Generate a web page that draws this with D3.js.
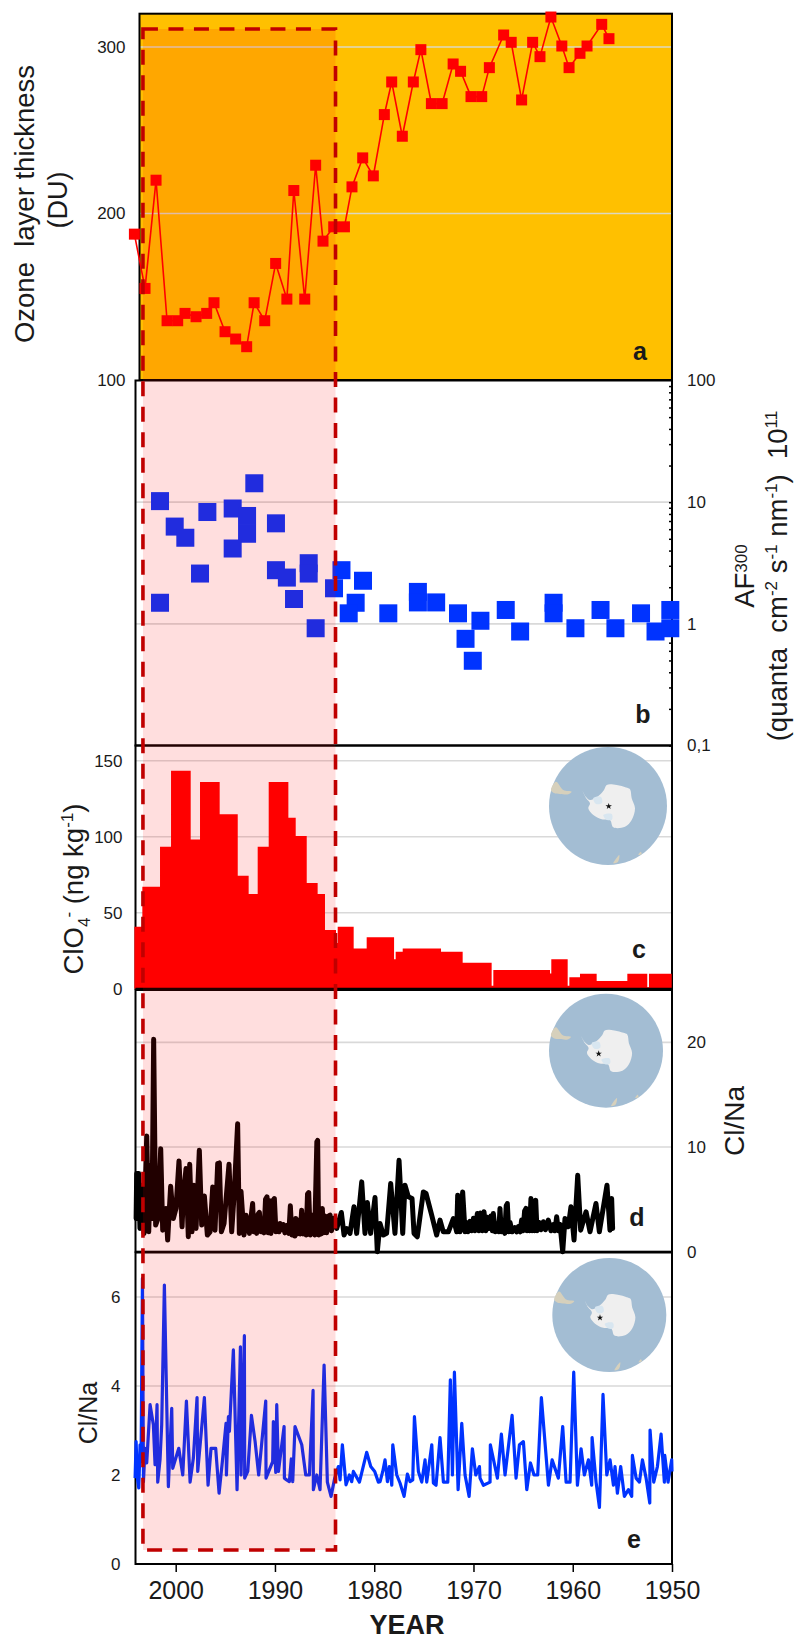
<!DOCTYPE html>
<html>
<head>
<meta charset="utf-8">
<script src="https://cdn.jsdelivr.net/npm/d3@7"></script>
<style>
  html, body { margin: 0; padding: 0; background: #fff; }
  svg { display: block; font-family: "Liberation Sans", Arial, sans-serif; }
  text { fill: #1a1a1a; }
</style>
</head>
<body>
<div id="chart"></div>
<script>
// a: ozone layer thickness
const aYears = [2004.16,2003.09,2001.98,2000.87,1999.8,1999.06,1997.95,1996.88,1996.14,1995.03,1993.96,1992.85,1992.1,1991.03,1989.93,1988.8,1988.1,1987.0,1985.9,1985.16,1984.08,1983.0,1982.24,1981.16,1980.09,1978.98,1978.24,1977.17,1976.06,1975.3,1974.24,1973.16,1972.05,1971.3,1970.25,1969.17,1968.4,1966.96,1966.2,1965.15,1964.04,1963.3,1962.2,1961.1,1960.37,1959.27,1958.56,1957.08,1956.35];
const aValues = [187.6,155,220,135.6,135.6,140,138,140,146.4,129,124.6,120,146.4,135.6,170,148.6,213.8,148.6,229,183.4,192,192,216,233.4,222.6,259.4,279,246.4,279,298.4,266,266,289.8,285.4,270.2,270.2,287.6,307.2,302.8,268.2,302.8,294.2,318,300.6,287.6,296.2,300.6,313.6,305];

// b: AF300
const bYears = [1992.08,2001.58,1996.81,1994.26,1992.81,1992.81,1994.26,2000.1,1999.03,1989.9,1997.55,1989.9,1988.8,1986.6,1986.6,1988.08,2001.58,1985.9,1984.05,1983.3,1981.13,1981.87,1982.57,1978.58,1975.6,1975.6,1973.76,1971.56,1969.3,1970.8,1970.07,1966.75,1965.3,1961.93,1961.93,1959.73,1957.2,1955.7,1953.12,1951.66,1950.17,1950.17];
const bValues = [14.3,10.2,8.3,8.87,7.7,5.5,4.16,6.3,5.1,6.7,2.59,2.76,2.4,3.15,2.59,1.6,1.49,0.92,1.96,2.76,2.26,1.49,1.22,1.22,1.83,1.5,1.5,1.22,1.06,0.753,0.497,1.3,0.865,1.49,1.22,0.92,1.3,0.92,1.22,0.865,1.3,0.92];

// c: perchlorate, one value per bin, the last edge closes the last bin
const cEdges = [2004.16,2003.36,2001.58,2000.47,1998.49,1997.55,1995.57,1993.75,1992.65,1991.74,1990.63,1988.65,1987.91,1986.8,1985.7,1984.96,1983.85,1983.68,1982.07,1980.76,1978.0,1977.84,1977.13,1973.27,1971.09,1968.17,1968.0,1966.32,1962.29,1962.16,1960.51,1960.34,1959.27,1957.59,1954.5,1952.49,1952.32,1950.03];
const cValues = [40.8,67,93.4,143.4,98.2,136,114.7,74.3,62.3,93.4,136,112.5,100.4,69.5,62.3,38.6,30,40.8,26.5,33.8,19.3,24.3,26.5,24.3,17,2,12.3,12.3,10,19.3,2,7.5,9.9,5,9.9,1,9.9];

// d: Cl/Na first core
const dYears = [
    2003.99,2003.93,2003.73,2003.6,2003.39,2003.19,2002.92,2002.72,2002.52,2002.39,2002.22,2002.02,2001.78,2001.51,2001.31,2000.98,2000.81,2000.51,2000.24,1999.97,1999.67,1999.36,1999.23,1998.96,1998.73,1998.59,1998.36,1998.16,1997.95,1997.62,1997.38,1997.11,1996.81,1996.54,1996.27,1996.04,1995.77,1995.6,1995.4,1995.13,1994.63,1994.36,1994.13,1993.76,1993.59,1993.42,1993.12,1992.92,
    1992.58,1992.42,1992.25,1992.13,1992.01,1991.85,1991.7,1991.57,1991.4,1991.24,1991.1,1990.95,1990.8,1990.68,1990.57,1990.4,1990.2,1990.06,1989.9,1989.76,1989.6,1989.49,1989.3,1989.16,1989.0,1988.82,1988.6,1988.45,1988.3,1988.15,1988.0,1987.91,1987.75,1987.64,1987.45,1987.31,1987.18,1987.07,1986.85,1986.72,1986.6,1986.45,1986.3,1986.0,1985.78,1985.7,1985.6,1985.46,1985.35,1985.23,1985.1,1984.96,1984.8,1984.6,1984.45,1984.3,1984.12,
    1983.78,1983.31,1983.04,1982.78,1982.44,1982.04,1981.77,1981.26,1980.93,1980.69,1980.36,1979.92,1979.69,1979.42,1979.08,1978.75,1978.34,1977.91,1977.5,1977.13,1976.9,1976.56,1976.19,1975.99,1975.66,1975.05,1974.78,1974.21,1973.71,1973.37,1973.04,1972.53,1972.03,1971.69,1971.59,1971.36,1971.09,
    1970.85,1970.7,1970.55,1970.35,1970.18,1970.0,1969.85,1969.61,1969.45,1969.3,1969.1,1968.94,1968.75,1968.6,1968.44,1968.25,1968.1,1968.0,1967.8,1967.6,1967.45,1967.33,1967.2,1967.06,1966.85,1966.7,1966.59,1966.45,1966.32,1966.1,1965.82,1965.65,1965.48,1965.3,1965.15,1965.0,1964.85,1964.71,1964.6,1964.47,1964.35,1964.21,1964.1,1963.97,1963.85,1963.73,1963.6,1963.4,1963.2,1962.96,1962.75,1962.46,1962.2,1961.96,1961.8,1961.62,1961.45,1961.28,
    1961.01,1960.78,1960.45,1960.18,1959.87,1959.5,1959.2,1958.66,1958.26,1957.66,1957.32,1956.99,1956.55,1956.25,1956.08,1955.98];
const dValues = [
    3.17,7.46,7.46,2.22,6.35,1.75,11.05,1.9,8.25,3.17,20.3,2.54,3.17,9.84,2.06,4.13,1.11,6.25,3.17,4.13,8.67,2.38,5.24,7.94,1.43,8.35,1.9,6.35,2.22,9.68,2.54,5.33,1.59,1.9,6.19,2.06,8.41,8.48,1.9,2.7,8.35,1.9,5.24,12.22,1.75,5.78,1.59,3.49,
    1.75,3.2,4.6,1.9,3.4,1.75,3.6,3.75,1.9,2.6,1.8,5.0,5.24,1.8,4.9,1.75,4.9,5.08,1.9,2.6,1.9,2.7,2.1,2.6,1.8,2.5,1.75,4.38,1.6,3.0,1.5,3.17,1.7,3.0,1.7,3.97,1.7,3.5,1.6,5.5,5.65,1.6,3.5,1.6,10.5,10.63,1.6,3.2,1.7,4.13,1.8,3.4,1.8,3.4,3.49,2.0,3.2,
    2.22,3.75,1.59,2.22,1.75,4.29,1.75,6.67,1.75,4.7,1.75,5.17,0,2.7,1.59,1.75,6.51,1.75,8.73,1.75,6.35,5.24,5.08,1.75,1.43,5.71,5.56,3.49,1.59,3.02,1.9,1.9,3.17,1.9,5.4,1.9,5.71,
    1.9,2.8,1.9,2.9,2.0,3.2,2.0,3.65,2.0,3.7,2.0,3.81,2.0,3.3,2.22,3.4,2.0,3.65,1.9,2.7,1.9,4.13,1.9,2.8,1.75,4.4,4.6,1.9,2.8,1.9,2.3,1.9,2.4,1.9,3.02,2.0,3.9,4.13,2.0,2.8,2.0,5.08,2.0,4.7,2.0,4.92,2.0,2.8,2.1,2.86,2.1,3.02,2.0,2.6,2.0,3.33,2.0,2.6,
    0,3.17,2.38,4.29,1.11,7.3,2.06,3.81,1.9,4.6,1.9,3.81,6.35,2.06,5.08,2.22];

// e: Cl/Na second core
const eYears = [2004.09,2003.99,2003.86,2003.72,2003.59,2003.49,2003.35,2003.25,2003.09,2002.92,2002.58,2002.25,2002.08,2001.88,2001.81,2001.58,2001.41,2001.14,2000.74,2000.4,2000.3,1999.69,1999.29,1998.92,1998.55,1998.22,1997.85,1997.78,1997.11,1996.74,1996.44,1995.97,1995.63,1995.3,1994.93,1994.89,1994.69,1994.59,1994.19,1993.82,1993.48,1993.42,1993.08,1993.05,1992.74,1992.37,1992.0,1991.64,1990.93,1990.9,1990.23,1990.16,1989.92,1989.82,1989.65,1989.08,1989.05,1988.82,1988.55,1988.35,1988.21,1987.98,1987.3,1986.9,1986.53,1986.16,1986.13,1985.79,1985.46,1985.05,1984.72,1984.35,1983.98,1983.61,1983.44,1983.21,1982.84,1982.5,1982.27,1982.1,1981.49,1980.76,1980.35,1979.95,1979.58,1979.41,1979.14,1978.91,1978.67,1978.47,1978.34,1978.23,1978.13,1977.73,1977.4,1976.99,1976.66,1976.39,1976.12,1975.95,1975.55,1975.21,1974.88,1974.71,1974.2,1974.04,1973.77,1973.37,1973.03,1972.59,1972.33,1972.12,1971.92,1971.55,1971.18,1970.85,1970.44,1970.11,1969.77,1969.4,1969.34,1969.0,1968.33,1968.3,1967.59,1967.19,1966.82,1966.11,1965.71,1965.37,1964.97,1964.63,1964.26,1963.9,1963.53,1963.16,1962.45,1962.08,1961.45,1961.01,1960.67,1960.27,1959.9,1959.53,1959.16,1958.83,1958.42,1958.09,1958.05,1957.65,1957.31,1956.95,1956.57,1956.24,1955.9,1955.74,1955.5,1955.17,1954.8,1954.39,1954.06,1953.99,1953.62,1953.28,1952.98,1952.61,1952.24,1952.21,1951.84,1951.47,1951.1,1950.77,1950.73,1950.4,1950.03,1950.0];
const eValues = [1.93,2.75,1.93,1.71,2.68,2.3,6.42,1.85,2.6,2.27,3.58,3.13,2.23,3.58,1.84,2.34,3.13,6.27,1.74,3.5,2.15,2.6,2.0,3.66,1.84,2.38,3.74,2.08,3.74,1.77,2.6,2.6,1.59,2.3,3.16,2.0,3.31,2.98,4.81,1.67,4.88,2.0,5.13,1.93,2.08,3.34,2.75,2.0,3.66,1.93,2.3,3.2,2.06,3.58,2.08,3.09,1.93,1.89,1.85,2.36,1.85,3.09,2.68,2.0,2.0,3.9,1.67,2.0,1.67,4.47,1.84,1.52,1.93,2.19,1.89,2.68,1.78,2.0,1.85,2.08,1.84,2.51,2.19,2.08,1.84,1.85,2.08,2.34,1.85,2.19,2.0,1.77,2.68,2.0,1.82,1.52,2.02,1.85,1.89,3.31,2.08,1.84,2.34,1.84,2.68,1.82,1.77,2.84,1.84,1.84,4.14,2.0,4.31,1.67,3.16,2.0,1.52,2.59,2.0,2.19,1.93,1.77,1.84,2.68,1.93,2.92,2.0,3.34,1.93,2.68,2.75,1.67,2.27,2.0,2.0,3.74,1.77,2.34,1.93,3.09,1.84,1.84,4.31,1.77,2.59,2.0,2.34,1.77,2.84,1.84,1.27,3.81,2.0,2.34,1.77,2.19,1.59,2.19,1.52,1.67,1.52,2.44,1.93,1.84,2.34,1.93,1.37,3.01,1.84,2.19,2.92,1.84,2.44,1.84,2.34,2.08];

const xTicks = [2000, 1990, 1980, 1970, 1960, 1950];
const aTicks = [300, 200, 100];
const bTicks = [100, 10, 1, 0.1];
const cTicks = [150, 100, 50, 0];
const dTicks = [20, 10, 0];
const eTicks = [6, 4, 2, 0];
const shadedYears = [2003.3, 1983.9];

const svg = d3.select("#chart").append("svg").attr("width", 795).attr("height", 1640);

const left = 135.5, right = 672;
const x = d3.scaleLinear().domain([2000, 1950]).range([175.7, 672]);

const yA = d3.scaleLinear().domain([100, 320]).range([380, 13.7]);
const yB = d3.scaleLog().domain([0.1, 100]).range([745.5, 380.5]);
const yC = d3.scaleLinear().domain([0, 160]).range([988.7, 745.5]);
const yD = d3.scaleLinear().domain([0, 25]).range([1251.7, 990]);
const yE = d3.scaleLinear().domain([0, 7]).range([1564, 1252.5]);

function grid(scale, values, x0, colour) {
    svg.append("g").selectAll("line").data(values).enter().append("line")
        .attr("x1", x0).attr("x2", right)
        .attr("y1", d => scale(d)).attr("y2", d => scale(d))
        .attr("stroke", colour).attr("stroke-width", 1.6);
}

function frame(x0, scale) {
    const r = scale.range();
    svg.append("rect")
        .attr("x", x0).attr("y", r[1])
        .attr("width", right - x0).attr("height", r[0] - r[1])
        .attr("fill", "none").attr("stroke", "#000").attr("stroke-width", 2);
}

function axisText(g, size) {
    g.selectAll("text").attr("font-size", size).attr("fill", "#1a1a1a");
    g.selectAll(".domain").remove();
    g.selectAll(".tick line").attr("stroke", "#000").attr("stroke-width", 1.5);
}

function leftAxis(scale, ticks, pad) {
    svg.append("g").attr("transform", `translate(${left},0)`)
        .call(d3.axisLeft(scale).tickValues(ticks).tickSize(0).tickPadding(pad).tickFormat(d => d))
        .call(axisText, 17);
}

function rightAxis(scale, ticks, fmt) {
    svg.append("g").attr("transform", `translate(${right},0)`)
        .call(d3.axisRight(scale).tickValues(ticks).tickSize(0).tickPadding(15).tickFormat(fmt))
        .call(axisText, 17);
}

// Panel a
svg.append("rect")
    .attr("x", 139.5).attr("y", yA(320))
    .attr("width", right - 139.5).attr("height", yA(100) - yA(320))
    .attr("fill", "#ffc000");
grid(yA, [300, 200], 139.5, "#dcd8c0");
frame(139.5, yA);
leftAxis(yA, aTicks, 10);
svg.append("path")
    .datum(aYears.map((d, i) => [d, aValues[i]]))
    .attr("fill", "none").attr("stroke", "#ff0000").attr("stroke-width", 1.6)
    .attr("d", d3.line().x(d => x(d[0])).y(d => yA(d[1])));
svg.append("g").selectAll("rect").data(aYears).enter().append("rect")
    .attr("x", d => x(d) - 5.5)
    .attr("y", (d, i) => yA(aValues[i]) - 5.5)
    .attr("width", 11).attr("height", 11)
    .attr("fill", "#ff0000");

// Panel b
grid(yB, [10, 1], left, "#d9d9d9");
frame(left, yB);
rightAxis(yB, bTicks, d => String(d).replace(".", ","));
svg.append("g").attr("transform", `translate(${right},0)`)
    .call(d3.axisRight(yB)
        .tickValues(d3.range(-1, 2).flatMap(e => d3.range(1, 10).map(m => m * Math.pow(10, e))))
        .tickSize(-3).tickFormat(""))
    .call(axisText, 17);
svg.append("g").selectAll("rect").data(bYears).enter().append("rect")
    .attr("x", d => x(d) - 9)
    .attr("y", (d, i) => yB(bValues[i]) - 9)
    .attr("width", 18).attr("height", 18)
    .attr("fill", "#0033ff");

// Panel c
grid(yC, [150, 100, 50], left, "#d9d9d9");
frame(left, yC);
svg.append("path")
    .datum(cEdges.map((d, i) => [d, i < cValues.length ? cValues[i] : cValues[cValues.length - 1]]))
    .attr("fill", "#ff0000")
    .attr("d", d3.area().curve(d3.curveStepAfter).x(d => x(d[0])).y0(yC(0)).y1(d => yC(d[1])));
svg.append("line")
    .attr("x1", left).attr("x2", right)
    .attr("y1", yC(0)).attr("y2", yC(0))
    .attr("stroke", "#000").attr("stroke-width", 2);
leftAxis(yC, cTicks, 13);

// Panel d
grid(yD, [20, 10], left, "#d9d9d9");
frame(left, yD);
rightAxis(yD, dTicks, d => d);
svg.append("path")
    .datum(dYears.map((d, i) => [d, dValues[i]]))
    .attr("fill", "none").attr("stroke", "#000").attr("stroke-width", 5)
    .attr("stroke-linejoin", "round").attr("stroke-linecap", "round")
    .attr("d", d3.line().x(d => x(d[0])).y(d => yD(d[1])));

// Panel e
grid(yE, [6, 4, 2], left, "#d9d9d9");
frame(left, yE);
leftAxis(yE, eTicks, 15);
svg.append("path")
    .datum(eYears.map((d, i) => [d, eValues[i]]))
    .attr("fill", "none").attr("stroke", "#0033ff").attr("stroke-width", 3.2)
    .attr("stroke-linejoin", "round")
    .attr("d", d3.line().x(d => x(d[0])).y(d => yE(d[1])));

// x axis
svg.append("g").attr("transform", `translate(0,${yE(0)})`)
    .call(d3.axisBottom(x).tickValues(xTicks).tickFormat(d => d).tickSize(8).tickPadding(9))
    .call(axisText, 25);

// shaded interval on top of all panels
svg.append("rect")
    .attr("x", x(shadedYears[0])).attr("y", 29)
    .attr("width", x(shadedYears[1]) - x(shadedYears[0])).attr("height", 1521)
    .attr("fill", "#ff0000").attr("fill-opacity", 0.13);
svg.append("rect")
    .attr("x", x(shadedYears[0])).attr("y", 29)
    .attr("width", x(shadedYears[1]) - x(shadedYears[0])).attr("height", 1521)
    .attr("fill", "none").attr("stroke", "#c00000").attr("stroke-width", 3.6)
    .attr("stroke-dasharray", "15,10.5");

// location maps, outlines relative to the circle centre
const antarctica = [[-25.7,-15.3],[-22,-9],[-18,-6],[-11.3,-8.7],[-4,-16],[-1.3,-21],[8.7,-21],[18,-18.5],[22,-16.7],[23.7,-7.7],[27,2.3],[23.7,14],[17,20.7],[5.3,21.3],[2,14],[-6.3,13.3],[-14.7,9],[-19.7,2.3],[-18,-2.7],[-22,-8]];
const shelfA = [[-14.7,-8],[-7,-9],[-6,-3],[-12,-2]];
const shelfB = [[-4.7,9],[3.7,8],[4,13.5],[-1,14]];
const landA = [[-57,-16],[-52,-24.3],[-44.7,-16],[-36.3,-14.3],[-39.7,-11.7],[-48,-12],[-54,-13]];
const landB = [[5.3,57.3],[11.3,49],[10,55.7]];
const landC = [[30.3,49],[32.7,45.7],[33.7,48]];
const outline = d3.line().curve(d3.curveCatmullRomClosed);

function map(cx, cy, r, sx, sy) {
    const k = r / 59;
    const g = svg.append("g").attr("transform", `translate(${cx},${cy})`);
    g.append("circle").attr("r", r).attr("fill", "#a3bdd3");
    [landA, landB, landC].forEach(p => g.append("path").attr("d", outline(p))
        .attr("transform", `scale(${k})`).attr("fill", "#d6d0bc"));
    g.append("path").attr("d", outline(antarctica))
        .attr("transform", `scale(${k})`).attr("fill", "#efefef");
    [shelfA, shelfB].forEach(p => g.append("path").attr("d", outline(p))
        .attr("transform", `scale(${k})`).attr("fill", "#d8e6f0"));
    g.append("path").attr("d", d3.symbol(d3.symbolStar, 13))
        .attr("transform", `translate(${sx},${sy})`).attr("fill", "#111");
}
map(608, 806, 59, 0.7, 0.3);
map(606, 1050.7, 57, -7.3, 3);
map(609.3, 1315, 57, -9.3, 2.7);

// panel letters
const letters = [["a", 640, 360], ["b", 643, 722.7], ["c", 639, 958], ["d", 637, 1225.7], ["e", 634, 1548]];
svg.append("g").selectAll("text").data(letters).enter().append("text")
    .attr("x", d => d[1]).attr("y", d => d[2])
    .attr("text-anchor", "middle").attr("font-size", 25).attr("font-weight", "bold")
    .attr("fill", "#000")
    .text(d => d[0]);

// axis titles
function title(tx, ty, size, parts) {
    const t = svg.append("text")
        .attr("transform", `translate(${tx},${ty}) rotate(-90)`)
        .attr("text-anchor", "middle").attr("font-size", size)
        .attr("xml:space", "preserve");
    parts.forEach(p => {
        const s = t.append("tspan").text(p[0]);
        if (p[1]) s.attr("font-size", size * 0.62).attr("dy", p[1]);
        if (p[2]) s.attr("dy", p[2]);
    });
}
title(34, 204, 27.5, [["Ozone  layer thickness"]]);
title(67, 200, 27, [["(DU)"]]);
title(83, 889, 27.5, [["ClO"], ["4", 7], ["-", -16], [" (ng kg", null, 9], ["-1", -10], [")", null, 10]]);
title(754, 576, 27.5, [["AF"], ["300", -7]]);
title(787, 576, 27.5, [["(quanta  cm"], ["-2", -10], [" s", null, 10], ["-1", -10], [" nm", null, 10], ["-1", -10], [")  10", null, 10], ["11", -10]]);
title(744, 1121, 28, [["Cl/Na"]]);
title(97, 1413, 25, [["Cl/Na"]]);

svg.append("text")
    .attr("x", 407).attr("y", 1634)
    .attr("text-anchor", "middle").attr("font-size", 27).attr("font-weight", "bold")
    .text("YEAR");
</script>
</body>
</html>
